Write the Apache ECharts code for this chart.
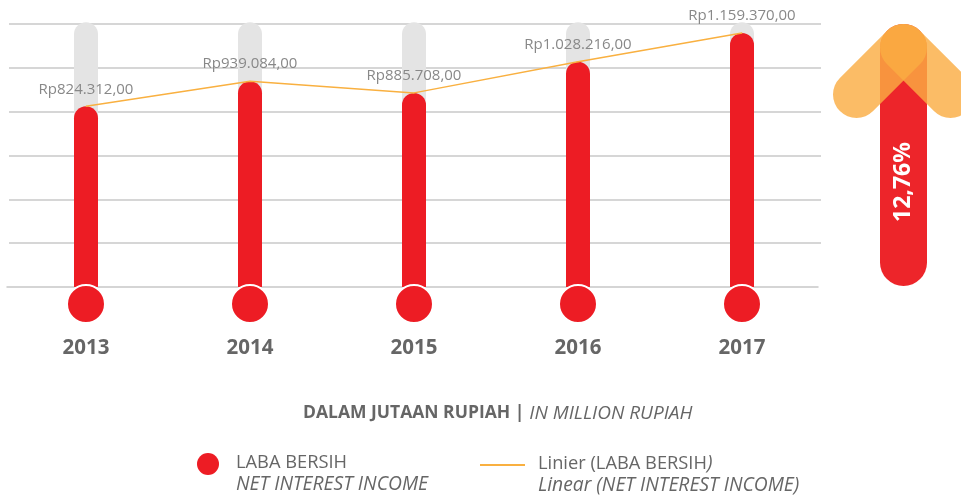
<!DOCTYPE html>
<html>
<head>
<meta charset="utf-8">
<style>
  html,body{margin:0;padding:0;background:#fff;}
  #chart{width:961px;height:497px;}
</style>
<script src="https://cdn.jsdelivr.net/npm/echarts@6/dist/echarts.min.js"></script>
</head>
<body>
<div id="chart"></div>
<script>
var years = ['2013','2014','2015','2016','2017'];
var labaBersih = [824312,939084,885708,1028216,1159370];
var track = [1208000,1208000,1208000,1208000,1208000];//grey tube behind the bars
var baseDots = [0,0,0,0,0];
var axisMax = 1200000;
var axisStep = 200000;
var growthLabel = '12,76%';

var font = '"Open Sans"';
var red = '#ed1c24';
var lineColor = '#f9b040';

function rupiah(v){
  return 'Rp' + String(v).replace(/\B(?=(\d{3})+$)/g,'.') + ',00';
}

var chart = echarts.init(document.getElementById('chart'), null, {renderer:'canvas'});

chart.setOption({
  animation:false,
  backgroundColor:'#fff',
  title:{
    left:298,
    top:399,
    text:'{b|DALAM JUTAAN RUPIAH |} {i|IN MILLION RUPIAH}',
    textStyle:{
      rich:{
        b:{fontFamily:font,fontSize:17.5,fontWeight:'bold',color:'#666'},
        i:{fontFamily:font,fontSize:19,fontWeight:'normal',fontStyle:'italic',color:'#666'}
      }
    }
  },
  legend:[
    {
      left:192,
      top:448,
      icon:'circle',
      itemWidth:22,
      itemHeight:22,
      itemGap:0,
      itemStyle:{borderWidth:0},
      selectedMode:false,
      data:['LABA BERSIH'],
      formatter:function(){
        return '{a|LABA BERSIH}\n{b|NET INTEREST INCOME}';
      },
      textStyle:{
        padding:[20,0,0,12],
        rich:{
          a:{fontFamily:font,fontSize:18.3,color:'#666',lineHeight:22},
          b:{fontFamily:font,fontSize:19.3,fontStyle:'italic',color:'#666',lineHeight:22}
        }
      }
    },
    {
      left:475,
      top:449,
      itemWidth:45,
      itemHeight:2,
      itemGap:0,
      selectedMode:false,
      data:[{name:'Linier (LABA BERSIH)',icon:'rect'}],
      itemStyle:{color:lineColor},
      formatter:function(){
        return '{a|Linier (LABA BERSIH}{b|)}\n{b|Linear (NET INTEREST INCOME)}';
      },
      textStyle:{
        padding:[19,0,0,8],
        rich:{
          a:{fontFamily:font,fontSize:18.3,color:'#666',lineHeight:22},
          b:{fontFamily:font,fontSize:19.3,fontStyle:'italic',color:'#666',lineHeight:22}
        }
      }
    }
  ],
  grid:[
    {left:4,width:820,top:24,height:263},//bars
    {left:9,width:812,top:24,height:263},//split lines
    {left:7,width:811,top:24,height:263}//baseline
  ],
  xAxis:[
    {
      gridIndex:0,
      type:'category',
      data:years,
      axisLine:{show:false},
      axisTick:{show:false},
      axisLabel:{
        margin:51,
        color:'#666',
        fontFamily:font,
        fontSize:20.5,
        fontWeight:'bold'
      }
    },
    {gridIndex:1,type:'category',data:years,show:false},
    {
      gridIndex:2,
      type:'category',
      data:years,
      axisLine:{show:true,lineStyle:{color:'#c8c8c8',width:1.5}},
      axisTick:{show:false},
      axisLabel:{show:false}
    }
  ],
  yAxis:[
    {gridIndex:0,type:'value',min:0,max:axisMax,interval:axisStep,show:false},
    {
      gridIndex:1,
      type:'value',
      min:0,
      max:axisMax,
      interval:axisStep,
      axisLine:{show:false},
      axisTick:{show:false},
      axisLabel:{show:false},
      splitLine:{show:true,showMinLine:false,lineStyle:{color:'#c8c8c8',width:1.5}}
    },
    {gridIndex:2,type:'value',min:0,max:axisMax,show:false}
  ],
  series:[
    {
      name:'track',
      type:'bar',
      data:track,
      barWidth:24,
      barGap:'-100%',
      clip:false,
      silent:true,
      itemStyle:{color:'#e4e4e4',borderRadius:[12,12,0,0]}
    },
    {
      name:'LABA BERSIH',
      type:'bar',
      data:labaBersih,
      barWidth:24,
      barGap:'-100%',
      itemStyle:{color:red,borderRadius:[12,12,0,0]}
    },
    {
      name:'Linier (LABA BERSIH)',
      type:'line',
      data:labaBersih,
      symbol:'circle',
      symbolSize:1,
      lineStyle:{color:lineColor,width:1.5},
      itemStyle:{color:lineColor},
      label:{
        show:true,
        position:'top',
        distance:9,
        color:'#888',
        fontFamily:font,
        fontSize:15,
        formatter:function(p){return rupiah(p.value);}
      }
    },
    {
      name:'LABA BERSIH',
      type:'scatter',
      data:baseDots,
      symbol:'circle',
      symbolSize:38,
      symbolOffset:[0,17],
      clip:false,
      z:5,
      itemStyle:{color:red,borderColor:'#fff',borderWidth:2,opacity:1}
    }
  ],
  graphic:[
    {
      //the growth arrow on the right
      type:'group',
      children:[
        {type:'rect',shape:{x:880,y:24,width:47,height:262,r:23.5},style:{fill:'#ed252a'}},
        {
          type:'polyline',
          shape:{points:[[903.5,47.5],[856.5,94.5]]},
          style:{stroke:'#faac42',lineWidth:47,lineCap:'round',opacity:0.81,fill:null}
        },
        {
          type:'polyline',
          shape:{points:[[903.5,47.5],[950.5,94.5]]},
          style:{stroke:'#faac42',lineWidth:47,lineCap:'round',opacity:0.81,fill:null}
        },
        {
          type:'text',
          x:903,
          y:182,
          rotation:Math.PI/2,
          style:{
            text:growthLabel,
            fill:'#fff',
            font:'bold 23px "Open Sans"',
            textAlign:'center',
            textVerticalAlign:'middle'
          }
        }
      ]
    }
  ]
});
</script>
</body>
</html>
